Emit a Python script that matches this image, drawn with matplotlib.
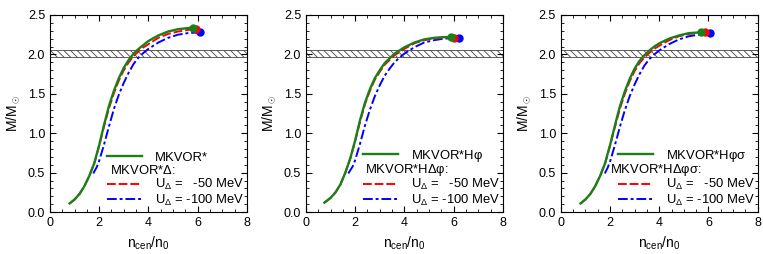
import matplotlib
matplotlib.use("Agg")
import matplotlib.pyplot as plt
from matplotlib.ticker import MultipleLocator

plt.rcParams['font.family'] = ['Liberation Sans', 'DejaVu Sans']
plt.rcParams['mathtext.fontset'] = 'custom'
plt.rcParams['mathtext.rm'] = 'Liberation Sans'
plt.rcParams['mathtext.it'] = 'Liberation Sans'
plt.rcParams['hatch.linewidth'] = 0.6

# panel 1: MKVOR* / MKVOR*Delta
n_g1 = [0.8, 1.0, 1.2, 1.4, 1.6, 1.8, 2.0, 2.2, 2.4, 2.6, 2.8, 3.0, 3.2, 3.4, 3.6, 3.8, 4.0, 4.4, 4.8, 5.2, 5.5, 5.8]
m_g1 = [0.11, 0.16, 0.23, 0.33, 0.46, 0.62, 0.85, 1.11, 1.35, 1.54, 1.70, 1.83, 1.93, 2.01, 2.07, 2.12, 2.17, 2.24, 2.29, 2.32, 2.33, 2.34]
n_r1 = [0.8, 1.0, 1.2, 1.4, 1.6, 1.8, 2.0, 2.2, 2.4, 2.6, 2.8, 3.0, 3.2, 3.4, 3.6, 3.8, 4.0, 4.4, 4.8, 5.2, 5.6, 5.95]
m_r1 = [0.11, 0.16, 0.23, 0.33, 0.46, 0.62, 0.84, 1.09, 1.32, 1.51, 1.67, 1.80, 1.90, 1.98, 2.04, 2.09, 2.13, 2.21, 2.26, 2.29, 2.31, 2.32]
n_b1 = [1.76, 1.9, 2.0, 2.2, 2.4, 2.6, 2.8, 3.0, 3.2, 3.4, 3.6, 3.8, 4.0, 4.4, 4.8, 5.2, 5.6, 6.1]
m_b1 = [0.49, 0.57, 0.65, 0.86, 1.09, 1.31, 1.49, 1.64, 1.77, 1.88, 1.96, 2.02, 2.07, 2.15, 2.21, 2.25, 2.27, 2.28]

# panel 2: MKVOR*Hphi / MKVOR*HDelta phi
n_g2 = [0.75, 1.0, 1.2, 1.4, 1.6, 1.8, 2.0, 2.2, 2.4, 2.6, 2.8, 3.0, 3.2, 3.4, 3.6, 3.8, 4.0, 4.4, 4.8, 5.2, 5.6, 5.9]
m_g2 = [0.12, 0.18, 0.25, 0.35, 0.50, 0.68, 0.91, 1.17, 1.39, 1.56, 1.70, 1.80, 1.89, 1.95, 2.01, 2.05, 2.09, 2.15, 2.19, 2.21, 2.22, 2.22]
n_r2 = [0.75, 1.0, 1.2, 1.4, 1.6, 1.8, 2.0, 2.2, 2.4, 2.6, 2.8, 3.0, 3.2, 3.4, 3.6, 3.8, 4.0, 4.4, 4.8, 5.2, 5.6, 6.0]
m_r2 = [0.12, 0.18, 0.25, 0.35, 0.50, 0.68, 0.90, 1.15, 1.37, 1.54, 1.68, 1.78, 1.87, 1.93, 1.99, 2.03, 2.07, 2.14, 2.18, 2.20, 2.21, 2.21]
n_b2 = [1.72, 1.9, 2.0, 2.2, 2.4, 2.6, 2.8, 3.0, 3.2, 3.4, 3.6, 3.8, 4.0, 4.4, 4.8, 5.2, 5.6, 6.2]
m_b2 = [0.49, 0.58, 0.66, 0.87, 1.10, 1.30, 1.47, 1.61, 1.73, 1.82, 1.90, 1.96, 2.01, 2.09, 2.15, 2.18, 2.20, 2.21]

# panel 3: MKVOR*Hphi sigma / MKVOR*HDelta phi sigma
n_g3 = [0.8, 1.0, 1.2, 1.4, 1.6, 1.8, 2.0, 2.2, 2.4, 2.6, 2.8, 3.0, 3.2, 3.4, 3.6, 3.8, 4.0, 4.4, 4.8, 5.2, 5.7]
m_g3 = [0.11, 0.16, 0.23, 0.33, 0.46, 0.62, 0.85, 1.10, 1.34, 1.53, 1.69, 1.82, 1.92, 1.99, 2.05, 2.10, 2.14, 2.20, 2.24, 2.27, 2.28]
n_r3 = [0.8, 1.0, 1.2, 1.4, 1.6, 1.8, 2.0, 2.2, 2.4, 2.6, 2.8, 3.0, 3.2, 3.4, 3.6, 3.8, 4.0, 4.4, 4.8, 5.2, 5.85]
m_r3 = [0.11, 0.16, 0.23, 0.33, 0.46, 0.62, 0.84, 1.08, 1.31, 1.50, 1.66, 1.79, 1.89, 1.96, 2.02, 2.07, 2.11, 2.18, 2.23, 2.26, 2.28]
n_b3 = [1.79, 1.9, 2.0, 2.2, 2.4, 2.6, 2.8, 3.0, 3.2, 3.4, 3.6, 3.8, 4.0, 4.4, 4.8, 5.2, 5.6, 6.05]
m_b3 = [0.49, 0.56, 0.64, 0.85, 1.08, 1.29, 1.47, 1.62, 1.75, 1.86, 1.94, 2.00, 2.05, 2.13, 2.19, 2.23, 2.25, 2.27]

names = ['MKVOR*', r'MKVOR*H$\varphi$', r'MKVOR*H$\varphi\sigma$']
dnames = [r'MKVOR*$\Delta$:', r'MKVOR*H$\Delta\varphi$:', r'MKVOR*H$\Delta\varphi\sigma$:']
dname_x = [0.305, 0.30, 0.25]

panels = [
    (n_g1, m_g1, n_r1, m_r1, n_b1, m_b1),
    (n_g2, m_g2, n_r2, m_r2, n_b2, m_b2),
    (n_g3, m_g3, n_r3, m_r3, n_b3, m_b3),
]

band_lo, band_hi = 1.97, 2.05
green = '#1a801a'

fig = plt.figure(figsize=(7.63, 2.54), dpi=100)
lefts = [0.0655, 0.401, 0.735]

for i, (ng, mg, nr, mr, nb, mb) in enumerate(panels):
    ax = fig.add_axes([lefts[i], 0.165, 0.258, 0.776])
    ax.axhspan(band_lo, band_hi, facecolor='white', edgecolor='#444444',
               hatch='\\\\\\\\\\', linewidth=0.6, zorder=1)
    hb, = ax.plot(nb, mb, color='blue', lw=1.4, dashes=(5, 1.5, 1.5, 1.5), zorder=3)
    hr, = ax.plot(nr, mr, color='red', lw=1.4, dashes=(4.5, 1.5), zorder=4)
    hg, = ax.plot(ng, mg, color=green, lw=1.7, zorder=5)
    ax.plot(nb[-1], mb[-1], 'o', color='blue', ms=5, zorder=6)
    ax.plot(nr[-1], mr[-1], 'o', color='red', ms=5, zorder=6)
    ax.plot(ng[-1], mg[-1], 'o', color=green, ms=5, zorder=7)

    blank, = ax.plot([], [], color='none')
    ax.legend([hg, blank, hr, hb],
              [names[i], ' ', r'U$_\Delta$ =   -50 MeV', r'U$_\Delta$ = -100 MeV'],
              loc='lower left', bbox_to_anchor=(0.29, 0.02), frameon=False,
              fontsize=9.4, handlelength=2.7, handletextpad=1.0,
              labelspacing=0.05, borderpad=0, borderaxespad=0)
    ax.text(dname_x[i], 0.213, dnames[i], transform=ax.transAxes,
            fontsize=9.4, va='center', ha='left')

    ax.set_xlim(0, 8)
    ax.set_ylim(0, 2.5)
    ax.xaxis.set_major_locator(MultipleLocator(2))
    ax.xaxis.set_minor_locator(MultipleLocator(0.5))
    ax.yaxis.set_major_locator(MultipleLocator(0.5))
    ax.yaxis.set_minor_locator(MultipleLocator(0.1))
    ax.yaxis.set_major_formatter(plt.FormatStrFormatter('%.1f'))
    ax.tick_params(which='both', direction='in', top=True, right=True, labelsize=9)
    ax.tick_params(which='major', length=4)
    ax.tick_params(which='minor', length=2)
    ax.set_xlabel(r'n$_{\rm cen}$/n$_0$', fontsize=10)
    ax.set_ylabel(r'M/M$_\odot$', fontsize=10)

fig.savefig('out.png', dpi=100)
